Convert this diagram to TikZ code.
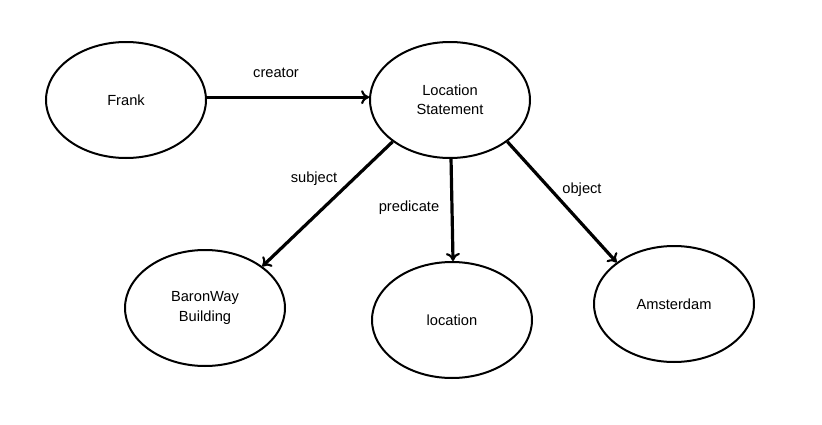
\documentclass[tikz,border=0pt]{standalone}
\usepackage{fontspec}
\setmainfont{Liberation Sans}
\usetikzlibrary{shapes.geometric,arrows.meta}
\begin{document}
\begin{tikzpicture}[x=0.75pt,y=-0.75pt,
  ell/.style={ellipse,draw,line width=1.5pt,minimum width=120pt,minimum height=87pt,inner sep=0pt,align=center,font=\fontsize{11}{14.3}\selectfont},
  conn/.style={line width=2.4pt,-{To[length=6pt,width=10.5pt,line width=1.6pt]}},
  lab/.style={font=\fontsize{11}{14}\selectfont}]
\useasboundingbox (0,0) rectangle (822,425);
\node[ell] (frank) at (126,100) {Frank};
\node[ell] (loc) at (450,100) {Location\\Statement};
\node[ell] (bw) at (205,308) {BaronWay\\Building};
\node[ell] (lc) at (452,320) {location};
\node[ell] (ams) at (674,304) {Amsterdam};
\draw[conn] (frank.2) -- (loc.178);
\draw[conn] (loc.216) -- (bw.36);
\draw[conn] (loc.271) -- (lc.89);
\draw[conn] (loc.324) -- (ams.144);
\node[lab] (l1) at (276,73) {creator};
\node[lab] (l2) at (314,179) {subject};
\node[lab] (l3) at (409,208) {predicate};
\node[lab] (l4) at (582,190) {object};
\end{tikzpicture}
\end{document}
